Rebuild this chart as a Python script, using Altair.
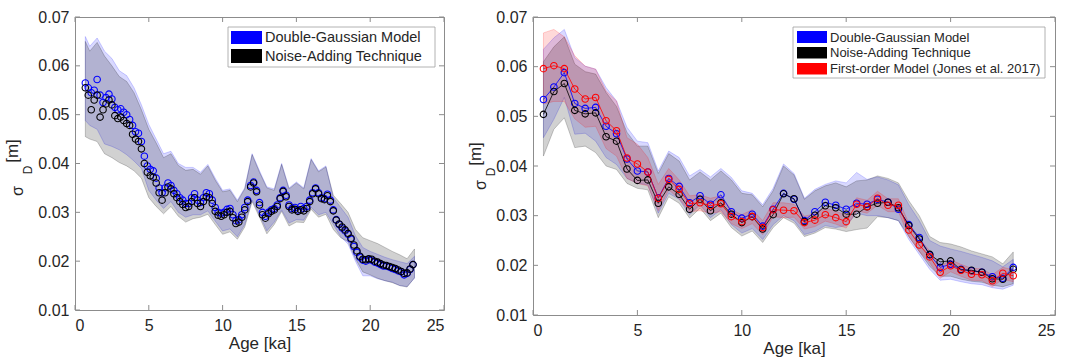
import altair as alt
import numpy as np
import pandas as pd

FONT = "Liberation Sans"
INK = "#262626"
FRAME = "#8c8c8c"
BLUE = "#0000ff"
BLACK = "#000000"
RED = "#ff0000"

X_TICKS = [0, 5, 10, 15, 20, 25]
Y_TICKS = [0.01, 0.02, 0.03, 0.04, 0.05, 0.06, 0.07]

# ---------------- left panel: dense moving-window estimates ----------------
AGE_DENSE = np.round(np.arange(0.7, 22.91, 0.2), 1)
DG_DENSE = [
    0.0565, 0.0555, 0.0545, 0.0550, 0.0572, 0.0540, 0.0525, 0.0535, 0.0542, 0.0532,
    0.0515, 0.0510, 0.0512, 0.0505, 0.0500, 0.0490, 0.0478, 0.0465, 0.0462, 0.0445,
    0.0415, 0.0395, 0.0388, 0.0385, 0.0370, 0.0350, 0.0340, 0.0350, 0.0360, 0.0355,
    0.0345, 0.0338, 0.0330, 0.0325, 0.0318, 0.0318, 0.0330, 0.0338, 0.0325, 0.0320,
    0.0330, 0.0340, 0.0338, 0.0325, 0.0310, 0.0300, 0.0298, 0.0300, 0.0306, 0.0308,
    0.0295, 0.0283, 0.0285, 0.0295, 0.0310, 0.0325, 0.0355, 0.0362, 0.0345, 0.0320,
    0.0300, 0.0292, 0.0300, 0.0305, 0.0308, 0.0315, 0.0330, 0.0345, 0.0335, 0.0315,
    0.0308, 0.0310, 0.0305, 0.0312, 0.0308, 0.0312, 0.0325, 0.0340, 0.0350, 0.0340,
    0.0330, 0.0328, 0.0337, 0.0325, 0.0305, 0.0285, 0.0275, 0.0268, 0.0262, 0.0255,
    0.0245, 0.0230, 0.0218, 0.0208, 0.0202, 0.0200, 0.0203, 0.0202, 0.0198, 0.0196,
    0.0193, 0.0190, 0.0190, 0.0188, 0.0185, 0.0183, 0.0180, 0.0178, 0.0172, 0.0175,
    0.0183, 0.0193,
]
NA_DENSE = [
    0.0555, 0.0540, 0.0510, 0.0530, 0.0540, 0.0495, 0.0510, 0.0522, 0.0530, 0.0520,
    0.0498, 0.0492, 0.0495, 0.0488, 0.0482, 0.0478, 0.0460, 0.0450, 0.0445, 0.0430,
    0.0400, 0.0382, 0.0375, 0.0372, 0.0360, 0.0340, 0.0325, 0.0340, 0.0352, 0.0348,
    0.0338, 0.0330, 0.0322, 0.0316, 0.0310, 0.0312, 0.0322, 0.0330, 0.0318, 0.0312,
    0.0322, 0.0332, 0.0330, 0.0318, 0.0302, 0.0294, 0.0292, 0.0295, 0.0300, 0.0302,
    0.0289, 0.0277, 0.0280, 0.0290, 0.0305, 0.0322, 0.0352, 0.0360, 0.0342, 0.0315,
    0.0295, 0.0288, 0.0297, 0.0302, 0.0305, 0.0312, 0.0328, 0.0343, 0.0332, 0.0312,
    0.0305, 0.0306, 0.0302, 0.0305, 0.0303, 0.0308, 0.0322, 0.0338, 0.0348, 0.0338,
    0.0328, 0.0326, 0.0334, 0.0322, 0.0303, 0.0284, 0.0276, 0.0270, 0.0264, 0.0257,
    0.0247, 0.0233, 0.0221, 0.0210, 0.0204, 0.0203, 0.0205, 0.0204, 0.0200, 0.0198,
    0.0195, 0.0192, 0.0191, 0.0189, 0.0187, 0.0185, 0.0182, 0.0179, 0.0175, 0.0176,
    0.0184, 0.0193,
]

AGE_BAND_L = [0.7] + [i / 2 for i in range(2, 47)]
DG_HI_L = [
    0.0660, 0.0640, 0.0657, 0.0630, 0.0615, 0.0590, 0.0580, 0.0555, 0.0520, 0.0480,
    0.0450, 0.0420, 0.0425, 0.0400, 0.0392, 0.0392, 0.0382, 0.0398, 0.0370, 0.0345,
    0.0348, 0.0325, 0.0350, 0.0420, 0.0385, 0.0352, 0.0348, 0.0400, 0.0350, 0.0362,
    0.0350, 0.0410, 0.0385, 0.0395, 0.0330, 0.0310, 0.0290, 0.0252, 0.0228, 0.0220,
    0.0214, 0.0208, 0.0203, 0.0199, 0.0195, 0.0210,
]
DG_LO_L = [
    0.0488, 0.0478, 0.0470, 0.0440, 0.0435, 0.0428, 0.0418, 0.0405, 0.0390, 0.0345,
    0.0325, 0.0308, 0.0322, 0.0300, 0.0290, 0.0295, 0.0295, 0.0303, 0.0282, 0.0262,
    0.0266, 0.0250, 0.0275, 0.0325, 0.0295, 0.0262, 0.0280, 0.0305, 0.0278, 0.0285,
    0.0284, 0.0310, 0.0295, 0.0300, 0.0275, 0.0250, 0.0235, 0.0200, 0.0170, 0.0170,
    0.0164, 0.0160, 0.0157, 0.0150, 0.0148, 0.0165,
]
NA_HI_L = [
    0.0650, 0.0630, 0.0648, 0.0620, 0.0600, 0.0578, 0.0568, 0.0545, 0.0510, 0.0470,
    0.0442, 0.0412, 0.0420, 0.0396, 0.0386, 0.0388, 0.0378, 0.0395, 0.0366, 0.0342,
    0.0345, 0.0322, 0.0348, 0.0418, 0.0382, 0.0350, 0.0345, 0.0398, 0.0348, 0.0360,
    0.0348, 0.0408, 0.0383, 0.0393, 0.0335, 0.0318, 0.0300, 0.0265, 0.0248, 0.0242,
    0.0236, 0.0228, 0.0220, 0.0213, 0.0205, 0.0225,
]
NA_LO_L = [
    0.0455, 0.0450, 0.0445, 0.0420, 0.0412, 0.0402, 0.0395, 0.0385, 0.0370, 0.0330,
    0.0312, 0.0297, 0.0312, 0.0292, 0.0280, 0.0287, 0.0290, 0.0296, 0.0275, 0.0255,
    0.0260, 0.0245, 0.0270, 0.0322, 0.0290, 0.0256, 0.0275, 0.0302, 0.0272, 0.0280,
    0.0279, 0.0306, 0.0290, 0.0296, 0.0265, 0.0248, 0.0240, 0.0205, 0.0178, 0.0172,
    0.0165, 0.0160, 0.0156, 0.0150, 0.0147, 0.0166,
]

# ---------------- right panel: 0.5 ka bins ----------------
AGE_R = [i / 2 for i in range(1, 47)]
DG_R = [
    0.0534, 0.0559, 0.0588, 0.0526, 0.0516, 0.0518, 0.0480, 0.0465, 0.0414, 0.0390,
    0.0388, 0.0336, 0.0375, 0.0359, 0.0326, 0.0340, 0.0323, 0.0342, 0.0308, 0.0295,
    0.0303, 0.0279, 0.0313, 0.0345, 0.0333, 0.0290, 0.0308, 0.0327, 0.0321, 0.0313,
    0.0325, 0.0323, 0.0333, 0.0327, 0.0313, 0.0282, 0.0256, 0.0221, 0.0196, 0.0202,
    0.0192, 0.0189, 0.0186, 0.0177, 0.0174, 0.0196,
]
NA_R = [
    0.0504, 0.0550, 0.0566, 0.0512, 0.0505, 0.0507, 0.0459, 0.0450, 0.0394, 0.0371,
    0.0372, 0.0325, 0.0358, 0.0343, 0.0313, 0.0333, 0.0310, 0.0326, 0.0303, 0.0286,
    0.0298, 0.0273, 0.0302, 0.0344, 0.0334, 0.0288, 0.0301, 0.0320, 0.0316, 0.0303,
    0.0303, 0.0318, 0.0325, 0.0327, 0.0316, 0.0280, 0.0253, 0.0222, 0.0207, 0.0209,
    0.0191, 0.0190, 0.0186, 0.0173, 0.0172, 0.0192,
]
FO_R = [
    0.0596, 0.0602, 0.0596, 0.0555, 0.0535, 0.0538, 0.0491, 0.0471, 0.0416, 0.0404,
    0.0388, 0.0335, 0.0373, 0.0353, 0.0324, 0.0326, 0.0320, 0.0324, 0.0298, 0.0288,
    0.0298, 0.0276, 0.0312, 0.0311, 0.0310, 0.0286, 0.0291, 0.0302, 0.0296, 0.0288,
    0.0323, 0.0318, 0.0335, 0.0321, 0.0321, 0.0271, 0.0241, 0.0217, 0.0186, 0.0199,
    0.0190, 0.0182, 0.0181, 0.0169, 0.0184, 0.0179,
]
DG_HI_R = [
    0.0635, 0.0658, 0.0675, 0.0618, 0.0601, 0.0595, 0.0558, 0.0531, 0.0478, 0.0450,
    0.0447, 0.0390, 0.0430, 0.0417, 0.0380, 0.0393, 0.0378, 0.0395, 0.0377, 0.0350,
    0.0345, 0.0322, 0.0355, 0.0404, 0.0385, 0.0335, 0.0353, 0.0363, 0.0370, 0.0366,
    0.0387, 0.0373, 0.0378, 0.0372, 0.0362, 0.0322, 0.0290, 0.0250, 0.0239, 0.0233,
    0.0228, 0.0222, 0.0216, 0.0209, 0.0197, 0.0212,
]
DG_LO_R = [
    0.0457, 0.0494, 0.0538, 0.0464, 0.0466, 0.0450, 0.0417, 0.0403, 0.0375, 0.0365,
    0.0362, 0.0305, 0.0345, 0.0333, 0.0302, 0.0322, 0.0296, 0.0312, 0.0282, 0.0265,
    0.0274, 0.0252, 0.0282, 0.0300, 0.0290, 0.0262, 0.0268, 0.0280, 0.0276, 0.0280,
    0.0305, 0.0300, 0.0300, 0.0296, 0.0290, 0.0252, 0.0222, 0.0192, 0.0170, 0.0172,
    0.0167, 0.0163, 0.0161, 0.0155, 0.0152, 0.0160,
]
NA_HI_R = [
    0.0610, 0.0640, 0.0660, 0.0605, 0.0590, 0.0585, 0.0548, 0.0520, 0.0468, 0.0440,
    0.0440, 0.0385, 0.0425, 0.0410, 0.0372, 0.0388, 0.0372, 0.0390, 0.0372, 0.0345,
    0.0342, 0.0318, 0.0350, 0.0400, 0.0382, 0.0333, 0.0350, 0.0360, 0.0366, 0.0358,
    0.0370, 0.0372, 0.0380, 0.0375, 0.0366, 0.0330, 0.0300, 0.0258, 0.0246, 0.0243,
    0.0237, 0.0229, 0.0223, 0.0217, 0.0203, 0.0227,
]
NA_LO_R = [
    0.0420, 0.0474, 0.0497, 0.0437, 0.0440, 0.0427, 0.0400, 0.0393, 0.0365, 0.0355,
    0.0352, 0.0296, 0.0338, 0.0325, 0.0295, 0.0315, 0.0290, 0.0305, 0.0276, 0.0259,
    0.0269, 0.0246, 0.0276, 0.0296, 0.0285, 0.0258, 0.0265, 0.0276, 0.0273, 0.0268,
    0.0272, 0.0275, 0.0298, 0.0296, 0.0290, 0.0258, 0.0228, 0.0198, 0.0178, 0.0178,
    0.0172, 0.0168, 0.0166, 0.0160, 0.0157, 0.0163,
]
FO_HI_R = [
    0.0668, 0.0675, 0.0660, 0.0622, 0.0601, 0.0595, 0.0551, 0.0531, 0.0457, 0.0444,
    0.0417, 0.0363, 0.0395, 0.0372, 0.0340, 0.0342, 0.0335, 0.0340, 0.0312, 0.0302,
    0.0312, 0.0290, 0.0326, 0.0326, 0.0323, 0.0299, 0.0304, 0.0315, 0.0309, 0.0301,
    0.0336, 0.0331, 0.0349, 0.0334, 0.0334, 0.0284, 0.0254, 0.0229, 0.0198, 0.0211,
    0.0202, 0.0194, 0.0193, 0.0181, 0.0196, 0.0191,
]
FO_LO_R = [
    0.0525, 0.0530, 0.0530, 0.0495, 0.0478, 0.0480, 0.0435, 0.0420, 0.0375, 0.0365,
    0.0360, 0.0310, 0.0352, 0.0334, 0.0308, 0.0310, 0.0305, 0.0308, 0.0284, 0.0274,
    0.0284, 0.0262, 0.0298, 0.0296, 0.0297, 0.0273, 0.0278, 0.0289, 0.0283, 0.0275,
    0.0310, 0.0305, 0.0321, 0.0308, 0.0308, 0.0258, 0.0228, 0.0205, 0.0174, 0.0187,
    0.0178, 0.0170, 0.0169, 0.0157, 0.0172, 0.0167,
]

NAME_DG = "Double-Gaussian Model"
NAME_NA = "Noise-Adding Technique"
NAME_FO = "First-order Model (Jones et al. 2017)"

ONE = pd.DataFrame({"k": [0]})


def build_panel(w, h, bands, series, connect, legend, ytitle):
    xs = alt.Scale(domain=[0, 25], nice=False, zero=False)
    ys = alt.Scale(domain=[0.01, 0.07], nice=False, zero=False)
    x_axis = alt.Axis(values=X_TICKS, format="d", title="Age [ka]", ticks=False,
                      domain=False, grid=False, labelFontSize=16, labelPadding=7,
                      labelColor=INK, labelFont=FONT, titleFont=FONT,
                      titleFontSize=17, titleFontWeight="normal", titleColor=INK,
                      titlePadding=2)
    y_axis = alt.Axis(values=Y_TICKS, format=".2f", title=None, ticks=False,
                      domain=False, grid=False, labelFontSize=16, labelPadding=6,
                      labelColor=INK, labelFont=FONT)

    layers = []
    # uncertainty envelopes
    for age, hi, lo, color, alpha in bands:
        df = pd.DataFrame({"age": age, "hi": hi, "lo": lo})
        layers.append(
            alt.Chart(df).mark_area(color=color, fillOpacity=alpha, stroke=color,
                                    strokeOpacity=alpha + 0.08, strokeWidth=0.8)
            .encode(x=alt.X("age:Q", scale=xs, axis=x_axis),
                    y=alt.Y("hi:Q", scale=ys, axis=y_axis),
                    y2="lo:Q")
        )
    # central estimates
    for age, vals, color, _name in series:
        df = pd.DataFrame({"age": age, "v": vals})
        enc = dict(x=alt.X("age:Q", scale=xs, axis=x_axis),
                   y=alt.Y("v:Q", scale=ys, axis=y_axis))
        if connect:
            layers.append(alt.Chart(df).mark_line(color=color, strokeWidth=0.8)
                          .encode(**enc))
        layers.append(alt.Chart(df).mark_point(shape="circle", filled=False,
                                               size=42, strokeWidth=1.1,
                                               color=color, opacity=1)
                      .encode(**enc))

    # inward ticks on all four sides
    xt = pd.DataFrame({"t": X_TICKS})
    yt = pd.DataFrame({"t": Y_TICKS})
    tl = 5
    for y0, y1 in [(h, h - tl), (0, tl)]:
        layers.append(alt.Chart(xt).mark_rule(color=FRAME, strokeWidth=1).encode(
            x=alt.X("t:Q", scale=xs, axis=x_axis),
            y=alt.value(y0), y2=alt.value(y1)))
    for x0, x1 in [(0, tl), (w, w - tl)]:
        layers.append(alt.Chart(yt).mark_rule(color=FRAME, strokeWidth=1).encode(
            y=alt.Y("t:Q", scale=ys, axis=y_axis),
            x=alt.value(x0), x2=alt.value(x1)))

    # legend box
    bx0, bx1, by0, by1, sx0, sx1, rows, fs = legend
    layers.append(alt.Chart(ONE).mark_rect(fill="white", stroke="#a0a0a0",
                                           strokeWidth=0.8).encode(
        x=alt.value(bx0), x2=alt.value(bx1), y=alt.value(by0), y2=alt.value(by1)))
    for (ry0, ry1), (_a, _v, color, name) in zip(rows, series):
        layers.append(alt.Chart(ONE).mark_rect(color=color).encode(
            x=alt.value(sx0), x2=alt.value(sx1), y=alt.value(ry0), y2=alt.value(ry1)))
        layers.append(alt.Chart(ONE).mark_text(
            text=name, align="left", baseline="middle", font=FONT, fontSize=fs,
            color=INK).encode(x=alt.value(sx1 + 3), y=alt.value((ry0 + ry1) / 2 + 0.5)))

    # y-axis title: sigma with subscript D, then the unit
    for txt, xx, yy, fsz in ytitle:
        layers.append(alt.Chart(ONE).mark_text(
            text=txt, angle=270, align="center", baseline="middle",
            font=FONT, fontSize=fsz, color=INK).encode(
            x=alt.value(xx), y=alt.value(yy)))

    return alt.layer(*layers).properties(width=w, height=h)


WL, HL = 369, 293
WR, HR = 522, 298

left = build_panel(
    WL, HL,
    bands=[(AGE_BAND_L, DG_HI_L, DG_LO_L, BLUE, 0.15),
           (AGE_BAND_L, NA_HI_L, NA_LO_L, BLACK, 0.18)],
    series=[(AGE_DENSE, DG_DENSE, BLUE, NAME_DG),
            (AGE_DENSE, NA_DENSE, BLACK, NAME_NA)],
    connect=False,
    legend=(153, 360, 10, 50, 156, 187, [(14, 27), (32, 46)], 14.5),
    ytitle=[("σ", -57.5, 174, 16), ("D", -47, 153, 12), ("[m]", -62.5, 134, 17)],
)

right = build_panel(
    WR, HR,
    bands=[(AGE_R, DG_HI_R, DG_LO_R, BLUE, 0.15),
           (AGE_R, NA_HI_R, NA_LO_R, BLACK, 0.18),
           (AGE_R, FO_HI_R, FO_LO_R, RED, 0.15)],
    series=[(AGE_R, DG_R, BLUE, NAME_DG),
            (AGE_R, NA_R, BLACK, NAME_NA),
            (AGE_R, FO_R, RED, NAME_FO)],
    connect=True,
    legend=(260, 512, 10, 61, 264, 294, [(14, 26), (30, 41.5), (46, 57.5)], 13),
    ytitle=[("σ", -52.5, 168, 16), ("D", -42, 155, 12), ("[m]", -57.5, 137, 17)],
)

chart = (
    alt.hconcat(left, right, spacing=21)
    .properties(padding={"left": 3, "top": 8, "right": 0, "bottom": 0},
                background="white")
    .configure_view(stroke=FRAME, strokeWidth=1)
)

chart.save("out.html", embed_options={"renderer": "svg", "actions": False})
